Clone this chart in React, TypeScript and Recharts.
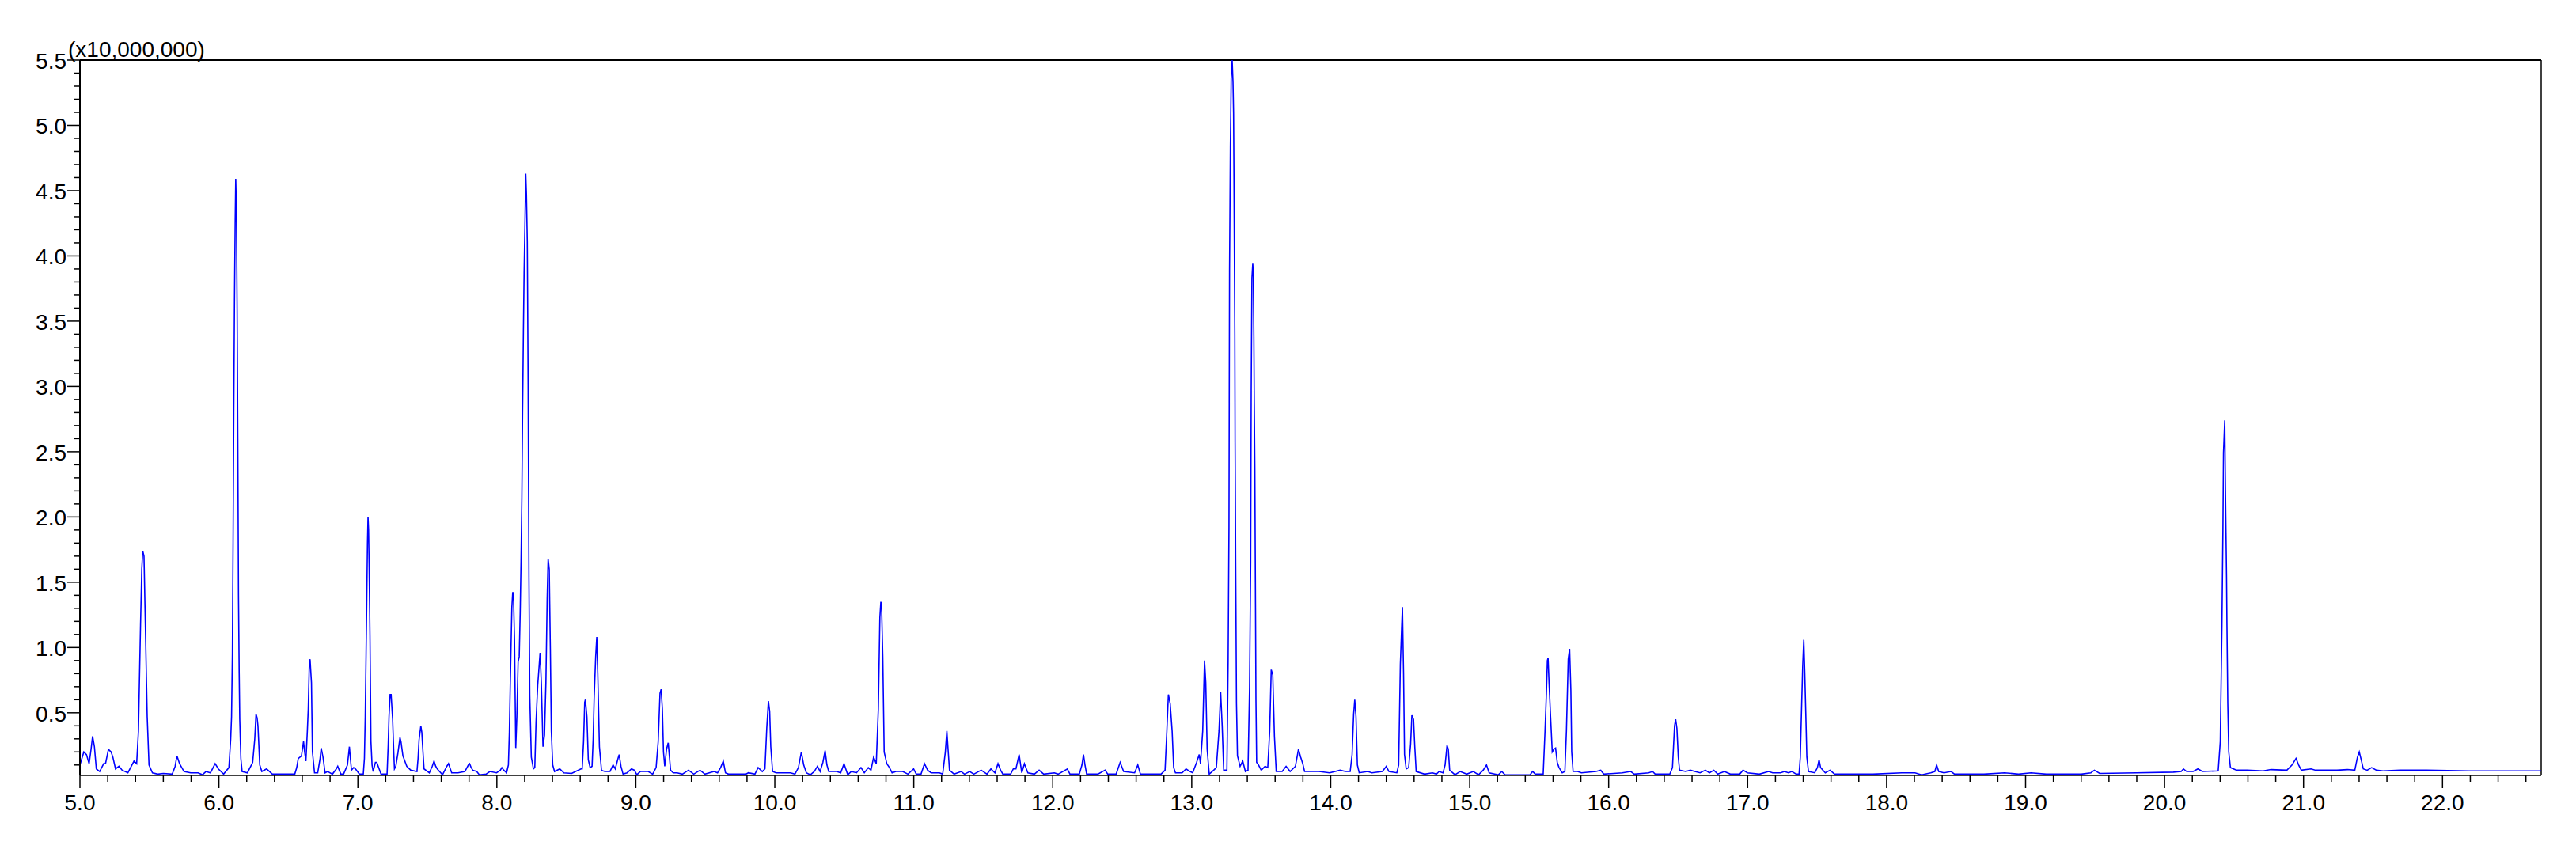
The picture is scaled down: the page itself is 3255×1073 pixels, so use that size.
import React from 'react';
import { LineChart, Line, XAxis, YAxis, ReferenceLine } from 'recharts';

// Chromatogram intensity (x10,000,000) vs retention time (min)
const segA: [number, number][] = [
  [5.000,0.10],[5.028,0.20],[5.047,0.18],[5.066,0.11],[5.080,0.22],[5.091,0.32],[5.104,0.24],[5.118,0.07],[5.142,0.05],[5.171,0.11],[5.184,0.11],[5.205,0.22],[5.224,0.20],[5.237,0.16],[5.256,0.07],[5.281,0.09],[5.304,0.06],[5.345,0.04],[5.389,0.13],[5.408,0.11],[5.421,0.36],[5.436,1.17],[5.445,1.60],[5.452,1.74],[5.461,1.70],[5.470,1.21],[5.484,0.47],[5.497,0.10],[5.522,0.04],[5.560,0.03],[5.600,0.035],[5.664,0.03],[5.685,0.09],[5.698,0.17],[5.717,0.11],[5.749,0.05],[5.797,0.04],[5.850,0.04],[5.882,0.025],[5.907,0.05],[5.939,0.04],[5.973,0.11],[5.996,0.07],[6.034,0.03],[6.072,0.08],[6.085,0.30],[6.091,0.47],[6.097,0.95],[6.102,1.80],[6.107,2.80],[6.112,3.65],[6.117,4.25],[6.121,4.59],[6.126,4.35],[6.131,3.60],[6.136,2.60],[6.141,1.40],[6.146,0.80],[6.150,0.45],[6.158,0.15],[6.167,0.05],[6.205,0.04],[6.243,0.12],[6.258,0.30],[6.267,0.49],[6.275,0.46],[6.281,0.40],[6.294,0.10],[6.309,0.05],[6.343,0.07],[6.385,0.03],[6.450,0.03],[6.546,0.03],[6.560,0.08],[6.571,0.15],[6.594,0.17],[6.609,0.28],[6.617,0.20],[6.626,0.13],[6.636,0.35],[6.643,0.53],[6.650,0.85],[6.656,0.91],[6.666,0.73],[6.673,0.20],[6.688,0.04],[6.711,0.04],[6.728,0.15],[6.736,0.23],[6.749,0.16],[6.764,0.04],[6.783,0.05],[6.817,0.03],[6.845,0.07],[6.855,0.09],[6.866,0.06],[6.878,0.03],[6.897,0.03],[6.925,0.10],[6.939,0.24],[6.946,0.15],[6.954,0.06],[6.970,0.08],[6.983,0.07],[7.011,0.03],[7.039,0.03],[7.047,0.15],[7.053,0.47],[7.059,0.95],[7.064,1.37],[7.069,1.80],[7.073,2.00],[7.077,1.90],[7.081,1.62],[7.087,1.09],[7.094,0.28],[7.102,0.10],[7.110,0.05],[7.126,0.12],[7.136,0.12],[7.153,0.07],[7.167,0.03],[7.210,0.03],[7.218,0.25],[7.224,0.47],[7.232,0.64],[7.239,0.64],[7.250,0.45],[7.258,0.20],[7.263,0.07],[7.273,0.09],[7.288,0.19],[7.303,0.31],[7.310,0.28],[7.324,0.17],[7.352,0.09],[7.381,0.06],[7.425,0.05],[7.433,0.15],[7.440,0.29],[7.453,0.40],[7.460,0.35],[7.466,0.24],[7.476,0.07],[7.514,0.04],[7.535,0.09],[7.548,0.13],[7.560,0.09],[7.571,0.07],[7.609,0.025],[7.640,0.09],[7.652,0.11],[7.662,0.08],[7.675,0.04],[7.720,0.04],[7.770,0.05],[7.795,0.10],[7.804,0.11],[7.815,0.08],[7.827,0.06],[7.855,0.05],[7.874,0.025],[7.922,0.03],
];

const segB: [number, number][] = [
  [7.950,0.05],[7.998,0.04],[8.025,0.06],[8.036,0.08],[8.050,0.06],[8.070,0.04],[8.083,0.10],[8.090,0.35],[8.096,0.69],[8.102,1.00],[8.108,1.31],[8.114,1.42],[8.119,1.42],[8.127,1.07],[8.136,0.23],[8.144,0.47],[8.153,0.89],[8.161,0.93],[8.168,1.27],[8.174,1.66],[8.180,2.15],[8.185,2.79],[8.191,3.42],[8.196,3.87],[8.202,4.24],[8.208,4.63],[8.213,4.47],[8.219,4.11],[8.225,3.02],[8.231,1.54],[8.237,0.63],[8.248,0.16],[8.263,0.07],[8.273,0.08],[8.282,0.43],[8.294,0.71],[8.305,0.87],[8.311,0.96],[8.320,0.73],[8.332,0.24],[8.343,0.33],[8.353,0.73],[8.362,1.37],[8.369,1.68],[8.377,1.60],[8.385,0.99],[8.392,0.36],[8.402,0.10],[8.415,0.05],[8.453,0.07],[8.482,0.04],[8.538,0.035],[8.567,0.05],[8.605,0.07],[8.614,0.07],[8.624,0.28],[8.632,0.58],[8.637,0.60],[8.648,0.47],[8.658,0.14],[8.671,0.08],[8.685,0.09],[8.693,0.30],[8.700,0.61],[8.711,0.93],[8.719,1.08],[8.726,0.81],[8.738,0.24],[8.753,0.06],[8.776,0.05],[8.814,0.05],[8.836,0.10],[8.852,0.07],[8.872,0.15],[8.880,0.18],[8.893,0.09],[8.908,0.03],[8.937,0.04],[8.969,0.07],[8.990,0.06],[9.007,0.025],[9.032,0.05],[9.089,0.05],[9.121,0.03],[9.146,0.08],[9.161,0.28],[9.174,0.65],[9.182,0.68],[9.191,0.53],[9.199,0.20],[9.208,0.09],[9.221,0.22],[9.233,0.27],[9.242,0.16],[9.250,0.06],[9.269,0.04],[9.297,0.04],[9.335,0.03],[9.379,0.06],[9.417,0.03],[9.462,0.06],[9.497,0.03],[9.563,0.05],[9.588,0.04],[9.610,0.08],[9.629,0.13],[9.645,0.04],[9.667,0.03],[9.791,0.03],[9.810,0.04],[9.857,0.03],[9.880,0.08],[9.910,0.05],[9.929,0.07],[9.942,0.38],[9.954,0.59],[9.963,0.51],[9.971,0.24],[9.984,0.05],[10.009,0.04],[10.075,0.04],[10.113,0.04],[10.145,0.03],[10.170,0.08],[10.191,0.20],[10.208,0.10],[10.227,0.04],[10.256,0.025],[10.284,0.05],[10.307,0.09],[10.326,0.05],[10.346,0.12],[10.362,0.21],[10.375,0.10],[10.388,0.05],[10.445,0.05],[10.474,0.04],[10.498,0.11],[10.525,0.025],[10.550,0.05],[10.588,0.04],[10.620,0.08],[10.644,0.04],[10.673,0.08],[10.692,0.06],[10.711,0.16],[10.730,0.11],[10.745,0.53],[10.756,1.23],[10.763,1.35],[10.768,1.33],[10.777,0.93],[10.787,0.20],[10.806,0.11],[10.825,0.08],[10.844,0.04],
];

const segC: [number, number][] = [
  [10.872,0.05],[10.920,0.05],[10.958,0.03],[10.999,0.07],[11.018,0.03],[11.052,0.03],[11.077,0.11],[11.100,0.06],[11.125,0.04],[11.185,0.04],[11.208,0.03],[11.227,0.20],[11.238,0.36],[11.248,0.20],[11.257,0.06],[11.290,0.03],[11.341,0.05],[11.365,0.03],[11.403,0.05],[11.432,0.03],[11.485,0.06],[11.527,0.03],[11.555,0.07],[11.584,0.04],[11.606,0.11],[11.625,0.06],[11.641,0.03],[11.697,0.03],[11.716,0.07],[11.735,0.07],[11.758,0.18],[11.777,0.04],[11.796,0.11],[11.821,0.04],[11.868,0.03],[11.902,0.06],[11.935,0.03],[12.011,0.04],[12.039,0.03],[12.105,0.07],[12.124,0.03],[12.191,0.03],[12.210,0.10],[12.221,0.18],[12.232,0.10],[12.244,0.03],[12.324,0.03],[12.377,0.06],[12.396,0.03],[12.456,0.03],[12.485,0.12],[12.510,0.05],[12.589,0.04],[12.612,0.10],[12.631,0.03],[12.779,0.03],[12.808,0.06],[12.821,0.36],[12.832,0.64],[12.845,0.57],[12.859,0.36],[12.870,0.08],[12.883,0.04],[12.931,0.04],[12.959,0.07],[12.988,0.05],[13.007,0.04],[13.035,0.12],[13.054,0.18],[13.063,0.11],[13.079,0.36],[13.092,0.90],[13.101,0.73],[13.111,0.22],[13.126,0.03],[13.158,0.06],[13.177,0.08],[13.196,0.36],[13.208,0.66],[13.219,0.40],[13.230,0.06],[13.253,0.06],[13.262,0.90],[13.268,1.92],[13.272,3.89],[13.278,4.83],[13.284,5.36],[13.291,5.50],[13.297,5.33],[13.301,5.09],[13.304,4.59],[13.310,3.39],[13.312,2.57],[13.316,1.68],[13.322,0.57],[13.329,0.17],[13.348,0.09],[13.367,0.13],[13.386,0.05],[13.405,0.06],[13.416,0.69],[13.424,1.65],[13.428,2.97],[13.433,3.83],[13.439,3.94],[13.443,3.87],[13.447,3.38],[13.450,2.88],[13.454,2.37],[13.458,1.50],[13.462,0.60],[13.467,0.12],[13.481,0.10],[13.500,0.06],[13.528,0.09],[13.547,0.08],[13.561,0.36],[13.572,0.83],[13.583,0.79],[13.595,0.32],[13.608,0.05],[13.651,0.05],
];

const segD: [number, number][] = [
  [13.679,0.09],[13.708,0.05],[13.746,0.09],[13.768,0.22],[13.784,0.16],[13.799,0.11],[13.812,0.05],[13.916,0.05],[13.992,0.04],[14.068,0.06],[14.106,0.05],[14.140,0.05],[14.154,0.18],[14.165,0.49],[14.173,0.60],[14.182,0.47],[14.192,0.10],[14.205,0.04],[14.267,0.05],[14.296,0.04],[14.372,0.05],[14.400,0.09],[14.419,0.05],[14.476,0.04],[14.489,0.10],[14.501,0.87],[14.510,1.14],[14.516,1.31],[14.520,1.05],[14.524,0.81],[14.531,0.18],[14.543,0.07],[14.561,0.08],[14.575,0.26],[14.584,0.48],[14.596,0.45],[14.605,0.24],[14.615,0.05],[14.675,0.03],[14.732,0.04],[14.761,0.03],[14.780,0.05],[14.808,0.04],[14.823,0.10],[14.837,0.25],[14.846,0.22],[14.856,0.06],[14.894,0.025],[14.931,0.05],[14.979,0.03],[15.026,0.05],[15.064,0.025],[15.097,0.06],[15.121,0.10],[15.140,0.04],[15.207,0.025],[15.231,0.05],[15.254,0.025],[15.434,0.025],[15.453,0.05],[15.472,0.03],[15.529,0.03],[15.542,0.36],[15.552,0.65],[15.559,0.90],[15.564,0.92],[15.571,0.73],[15.582,0.47],[15.594,0.20],[15.605,0.22],[15.618,0.23],[15.630,0.12],[15.643,0.08],[15.666,0.04],[15.685,0.05],[15.696,0.36],[15.709,0.91],[15.719,0.99],[15.728,0.67],[15.734,0.20],[15.744,0.05],[15.776,0.05],[15.804,0.04],[15.909,0.05],[15.943,0.06],[15.965,0.03],[16.098,0.04],[16.159,0.05],[16.184,0.03],[16.288,0.04],[16.316,0.05],[16.335,0.03],[16.440,0.03],
];

const segE: [number, number][] = [
  [16.459,0.08],[16.474,0.40],[16.482,0.45],[16.491,0.38],[16.501,0.16],[16.510,0.06],[16.554,0.05],[16.588,0.06],[16.620,0.05],[16.658,0.04],[16.696,0.06],[16.725,0.04],[16.757,0.06],[16.785,0.03],[16.833,0.05],[16.876,0.03],[16.943,0.03],[16.967,0.06],[16.999,0.04],[17.085,0.03],[17.151,0.05],[17.180,0.04],[17.237,0.04],[17.265,0.05],[17.294,0.04],[17.318,0.05],[17.351,0.03],[17.370,0.03],[17.379,0.16],[17.389,0.57],[17.396,0.85],[17.404,1.06],[17.411,0.81],[17.419,0.47],[17.426,0.16],[17.438,0.05],[17.483,0.04],[17.502,0.08],[17.514,0.14],[17.525,0.08],[17.559,0.04],[17.593,0.06],[17.626,0.03],[17.711,0.03],[17.900,0.03],[18.109,0.04],[18.204,0.04],[18.252,0.025],[18.318,0.04],[18.347,0.05],[18.360,0.10],[18.375,0.05],[18.413,0.04],[18.464,0.05],[18.489,0.03],[18.700,0.03],[18.849,0.04],[18.950,0.03],[19.039,0.04],[19.150,0.03],
];

const segF: [number, number][] = [
  [19.229,0.03],[19.400,0.03],[19.470,0.04],[19.495,0.06],[19.533,0.035],[19.798,0.04],[20.064,0.045],[20.120,0.05],[20.136,0.07],[20.159,0.05],[20.206,0.05],[20.240,0.07],[20.272,0.05],[20.386,0.055],[20.401,0.28],[20.413,1.17],[20.420,1.90],[20.424,2.49],[20.433,2.74],[20.438,2.22],[20.442,1.88],[20.446,1.54],[20.449,1.17],[20.455,0.57],[20.462,0.20],[20.474,0.08],[20.519,0.06],[20.595,0.06],[20.709,0.055],[20.766,0.065],[20.880,0.06],[20.917,0.10],[20.946,0.15],[20.965,0.10],[20.984,0.06],[21.054,0.07],[21.088,0.06],[21.240,0.06],[21.316,0.065],[21.369,0.06],[21.388,0.16],[21.401,0.20],[21.415,0.14],[21.430,0.07],[21.458,0.06],[21.490,0.08],[21.525,0.06],[21.572,0.055],[21.695,0.06],[21.885,0.06],[22.189,0.055],[22.400,0.055],[22.710,0.055],
];

const xMajorLabels = [5, 6, 7, 8, 9, 10, 11, 12, 13, 14, 15, 16, 17, 18, 19, 20, 21, 22];
const yMajorLabels = [0.5, 1.0, 1.5, 2.0, 2.5, 3.0, 3.5, 4.0, 4.5, 5.0, 5.5];
const X_DOMAIN: [number, number] = [5, 22.71];
const Y_DOMAIN: [number, number] = [0.02, 5.5];
const UNIT_LABEL = '(x10,000,000)';

const data = [...segA, ...segB, ...segC, ...segD, ...segE, ...segF].map(([t, v]) => ({ t, v }));

const xTicks: number[] = [];
for (let k = 0; k <= 88; k++) xTicks.push(Math.round((5 + k * 0.2) * 10) / 10);
const yTicks: number[] = [];
for (let k = 1; k <= 55; k++) yTicks.push(Math.round(k) / 10);

const FONT = "'Liberation Sans', Arial, Helvetica, sans-serif";

const isMajorX = (v: number) => xMajorLabels.some((m) => Math.abs(m - v) < 1e-6);
const isMajorY = (v: number) => yMajorLabels.some((m) => Math.abs(m - v) < 1e-6);

const XTick = (props: any) => {
  const { x, y, payload } = props;
  const v = payload.value as number;
  const major = isMajorX(v);
  return (
    <g>
      <line x1={x} x2={x} y1={y} y2={y + (major ? 16 : 8)} stroke="#000" strokeWidth={1.5} />
      {major && (
        <text x={x} y={y + 44} textAnchor="middle" fontFamily={FONT} fontSize={28} fill="#000">
          {v.toFixed(1)}
        </text>
      )}
    </g>
  );
};

const YTick = (props: any) => {
  const { x, y, payload } = props;
  const v = payload.value as number;
  const major = isMajorY(v);
  return (
    <g>
      <line x1={x - (major ? 16 : 7)} x2={x} y1={y} y2={y} stroke="#000" strokeWidth={1.5} />
      {major && (
        <text x={x - 17} y={y + 11} textAnchor="end" fontFamily={FONT} fontSize={28} fill="#000">
          {v.toFixed(1)}
        </text>
      )}
      {Math.abs(v - 5.5) < 1e-6 && (
        <text x={x - 15} y={y - 4} textAnchor="start" fontFamily={FONT} fontSize={28} fill="#000">
          {UNIT_LABEL}
        </text>
      )}
    </g>
  );
};

export default function App() {
  return (
    <div style={{ width: 3239, height: 1060, background: '#fff' }}>
      <LineChart width={3239} height={1060} data={data} margin={{ top: 68, right: 36, bottom: 8, left: 0 }}>
        <XAxis
          type="number"
          dataKey="t"
          domain={X_DOMAIN}
          allowDataOverflow
          ticks={xTicks}
          interval={0}
          tickSize={0}
          tickMargin={0}
          tickLine={false}
          tick={<XTick />}
          height={80}
          axisLine={{ stroke: '#000', strokeWidth: 1.5 }}
        />
        <YAxis
          type="number"
          domain={Y_DOMAIN}
          allowDataOverflow
          ticks={yTicks}
          interval={0}
          tickSize={0}
          tickMargin={0}
          tickLine={false}
          tick={<YTick />}
          width={93}
          axisLine={{ stroke: '#000', strokeWidth: 2 }}
        />
        <ReferenceLine y={5.5} stroke="#000" strokeWidth={2} ifOverflow="visible" />
        <ReferenceLine x={22.71} stroke="#000" strokeWidth={1.5} ifOverflow="visible" />
        <Line
          type="linear"
          dataKey="v"
          stroke="#0000FF"
          strokeWidth={1.6}
          dot={false}
          isAnimationActive={false}
        />
      </LineChart>
    </div>
  );
}
